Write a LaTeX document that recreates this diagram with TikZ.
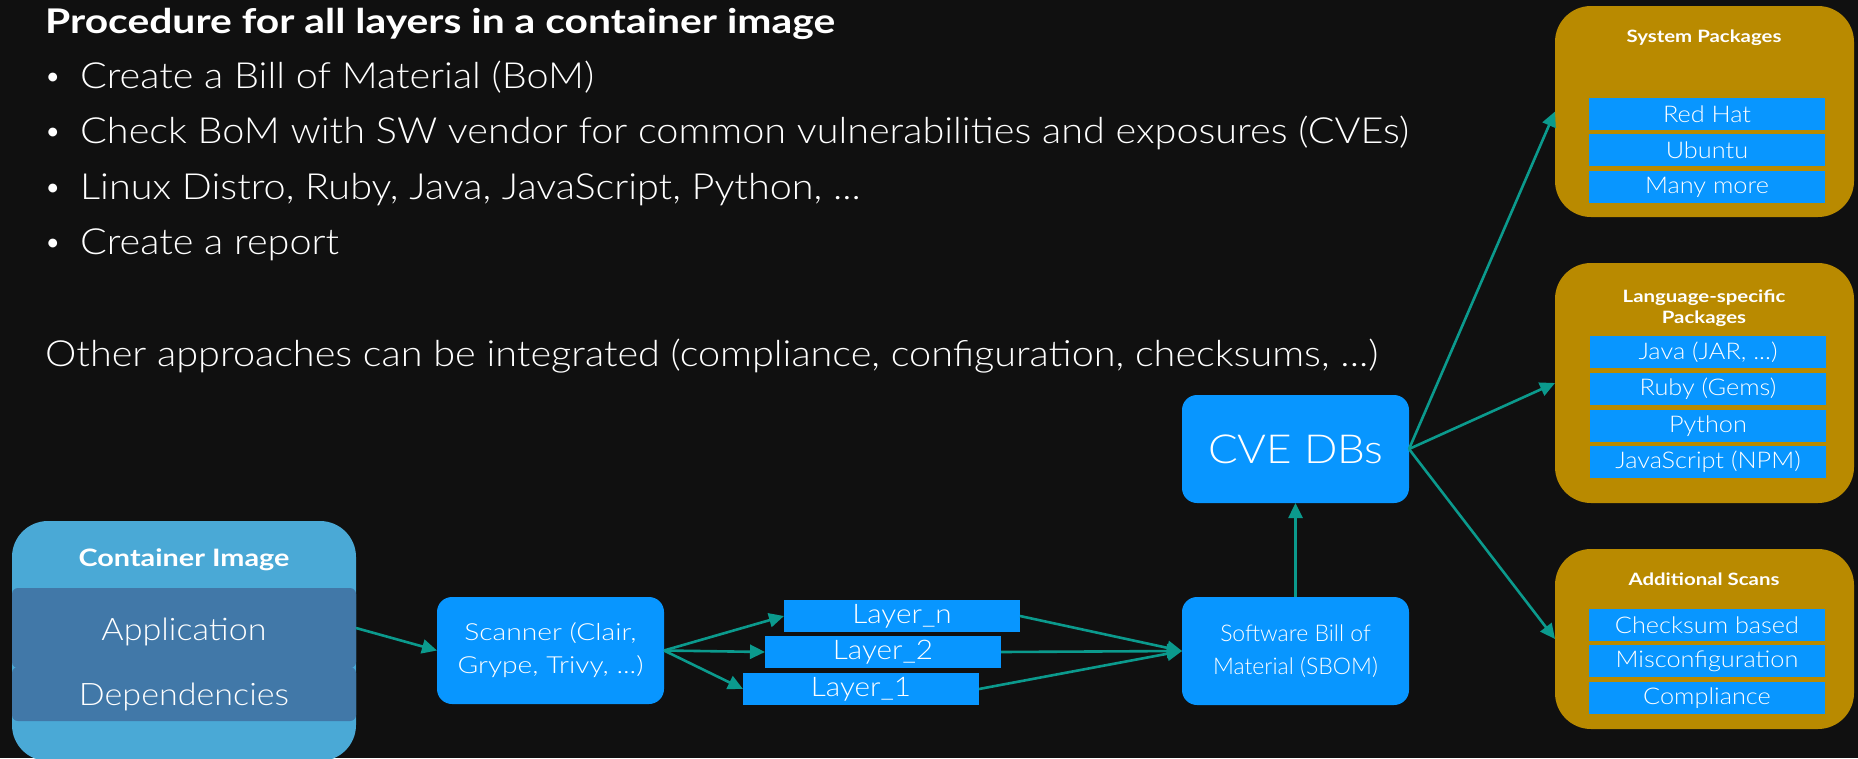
\documentclass[tikz,border=0pt]{standalone}
\usepackage{fontspec}
\usetikzlibrary{arrows.meta}
\setmainfont{Lato}
\IfFontExistsTF{Lato Light}{%
  \newfontfamily\thinfont{Lato Light}[FakeStretch=1.1]%
  \newfontfamily\thinplain{Lato Light}%
  \newfontfamily\thinwide{Lato Light}[FakeStretch=1.2]}{%
  \newfontfamily\thinfont{Lato}[FakeStretch=1.1]%
  \newfontfamily\thinplain{Lato}%
  \newfontfamily\thinwide{Lato}[FakeStretch=1.2]}
\newfontfamily\boldwide{Lato}[FakeStretch=1.2]
\definecolor{bgc}{HTML}{101010}
\definecolor{ciblue}{HTML}{4AA9D6}
\definecolor{ciband}{HTML}{4178A8}
\definecolor{boxblue}{HTML}{0896FF}
\definecolor{gold}{HTML}{B98A00}
\definecolor{teal}{HTML}{0B9A8D}
\begin{document}
\begin{tikzpicture}[x=1pt,y=-1pt,
  corner/.style={anchor=north west,inner sep=0pt,outer sep=0pt},
  ciouter/.style={corner,fill=ciblue,rounded corners=36pt},
  cibandbox/.style={corner,fill=ciband,rounded corners=6pt,minimum width=344pt},
  bluebox/.style={corner,fill=boxblue,rounded corners=15pt,minimum width=227pt,
    text=white,align=center},
  layerbox/.style={corner,fill=boxblue,minimum width=236pt,minimum height=32pt,
    text=white,font=\thinfont\fontsize{27}{30}\selectfont},
  goldbox/.style={corner,fill=gold,rounded corners=36pt,minimum width=299pt},
  rowbox/.style={corner,fill=boxblue,minimum width=236pt,minimum height=32pt,
    text=white,font=\thinfont\fontsize{23}{26}\selectfont},
  head/.style={text=white,font=\boldwide\bfseries\fontsize{17}{20}\selectfont,align=center,inner sep=0pt},
  line/.style={text=white,anchor=base west,inner sep=0pt,font=\thinfont\fontsize{36}{40}\selectfont},
  dot/.style={text=white,anchor=base west,inner sep=0pt,font=\thinplain\fontsize{30}{40}\selectfont},
  conn/.style={draw=teal,line width=2.6pt,-{Triangle[length=15pt,width=14pt]}}]
\useasboundingbox (0,0) rectangle (1858,758);
\fill[bgc] (0,0) rectangle (1858,758);

% heading and bullet list
\node[text=white,anchor=base west,inner sep=0pt,font=\boldwide\bfseries\fontsize{34}{40}\selectfont]
  (title) at (45,33) {Procedure for all layers in a container image};
\node[dot] (b1) at (44,86) {\textbullet};
\node[line] (t1) at (80,88) {Create a Bill of Material (BoM)};
\node[dot] (b2) at (44,141) {\textbullet};
\node[line] (t2) at (80,143) {Check BoM with SW vendor for common vulnerabilities and exposures (CVEs)};
\node[dot] (b3) at (44,197) {\textbullet};
\node[line] (t3) at (80,199) {Linux Distro, Ruby, Java, JavaScript, Python, ...};
\node[dot] (b4) at (44,252) {\textbullet};
\node[line] (t4) at (80,254) {Create a report};
\node[line] (other) at (45,366) {Other approaches can be integrated (compliance, configuration, checksums, ...)};

% container image
\node[ciouter,minimum width=344pt,minimum height=240pt] (ci) at (12,521) {};
\node[head,font=\boldwide\bfseries\fontsize{24}{28}\selectfont] (cihead) at (184,560) {Container Image};
\node[cibandbox,minimum height=54pt] (dep) at (12,667) {};
\node[cibandbox,minimum height=80pt] (app) at (12,588) {};
\node[text=white,font=\thinfont\fontsize{31}{34}\selectfont] (apptext) at (184,632) {Application};
\node[text=white,font=\thinfont\fontsize{31}{34}\selectfont] (deptext) at (184,697) {Dependencies};

% scanner and layers
\node[bluebox,minimum height=107pt,font=\thinwide\fontsize{23.5}{33}\selectfont] (scanner) at (437,597)
  {Scanner (Clair,\\Grype, Trivy, ...)};
\node[layerbox] (layern) at (784,600) {Layer\_n};
\node[layerbox] (layer2) at (765,636) {Layer\_2};
\node[layerbox] (layer1) at (743,673) {Layer\_1};

% SBOM and CVE databases
\node[bluebox,minimum height=108pt,font=\thinplain\fontsize{23}{33}\selectfont] (sbom) at (1182,597)
  {Software Bill of\\Material (SBOM)};
\node[bluebox,minimum height=108pt,font=\thinfont\fontsize{40}{44}\selectfont] (cve) at (1182,395) {CVE DBs};

% package groups
\node[goldbox,minimum height=211pt] (sys) at (1555,6) {};
\node[head] (syshead) at (1704,38) {System Packages};
\node[rowbox] (r1) at (1589,98) {Red Hat};
\node[rowbox] (r2) at (1589,134) {Ubuntu};
\node[rowbox] (r3) at (1589,171) {Many more};

\node[goldbox,minimum height=240pt] (lang) at (1555,263) {};
\node[head,font=\boldwide\bfseries\fontsize{17}{21}\selectfont] (langhead) at (1704,308) {Language-specific\\Packages};
\node[rowbox] (l1) at (1590,336) {Java (JAR, ...)};
\node[rowbox] (l2) at (1590,373) {Ruby (Gems)};
\node[rowbox] (l3) at (1590,410) {Python};
\node[rowbox] (l4) at (1590,446) {JavaScript (NPM)};

\node[goldbox,minimum height=180pt] (add) at (1555,549) {};
\node[head] (addhead) at (1704,579) {Additional Scans};
\node[rowbox] (a1) at (1589,609) {Checksum based};
\node[rowbox] (a2) at (1589,645) {Misconfiguration};
\node[rowbox] (a3) at (1589,682) {Compliance};

% connectors
\draw[conn] (app.east) -- (scanner.west);
\draw[conn] (scanner.east) -- (layern.west);
\draw[conn] (scanner.east) -- (layer2.west);
\draw[conn] (scanner.east) -- (layer1.west);
\draw[conn] (layern.east) -- (sbom.west);
\draw[conn] (layer2.east) -- (sbom.west);
\draw[conn] (layer1.east) -- (sbom.west);
\draw[conn] (sbom.north) -- (cve.south);
\draw[conn] (cve.east) -- (sys.west);
\draw[conn] (cve.east) -- (lang.west);
\draw[conn] (cve.east) -- (add.west);
\end{tikzpicture}
\end{document}
